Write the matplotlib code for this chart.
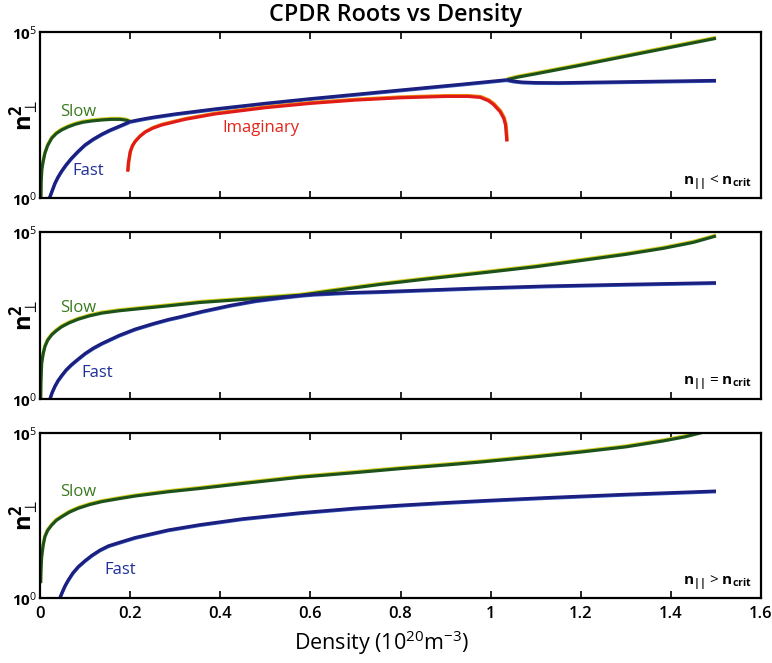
import matplotlib
matplotlib.use("Agg")
import matplotlib.pyplot as plt
import matplotlib.patheffects as pe
from matplotlib.ticker import FixedLocator, FixedFormatter, NullLocator

plt.rcParams["font.family"] = ["Open Sans", "DejaVu Sans"]
plt.rcParams["mathtext.fontset"] = "custom"
plt.rcParams["mathtext.rm"] = "Open Sans"
plt.rcParams["mathtext.bf"] = "Open Sans:bold"
plt.rcParams["mathtext.it"] = "Open Sans:italic"
plt.rcParams["mathtext.sf"] = "Open Sans"

# ---- panel 1: n_par < n_crit ----
p1_slow_x = [0.002, 0.0025, 0.004, 0.007, 0.011, 0.017, 0.026, 0.036, 0.048, 0.062,
             0.078, 0.095, 0.115, 0.137, 0.159, 0.178, 0.192, 0.200]
p1_slow_y = [1.0, 2.82, 7.08, 12.6, 22.4, 38.0, 63.1, 87.1, 112, 138,
             166, 191, 209, 224, 234, 234, 219, 200]
p1_fast_x = [0.021, 0.027, 0.033, 0.040, 0.048, 0.058, 0.070, 0.085, 0.100, 0.118,
             0.137, 0.155, 0.174, 0.188, 0.200]
p1_fast_y = [1.0, 1.66, 2.75, 4.27, 6.46, 10.0, 15.8, 25.7, 39.8, 58.9,
             83.2, 110, 141, 170, 200]
p1_merged_x = [0.200, 0.225, 0.25, 0.30, 0.388, 0.5, 0.6, 0.7, 0.8, 0.932, 1.036]
p1_merged_y = [200, 234, 269, 339, 479, 708, 977, 1318, 1778, 2630, 3631]
p1_fast_hi_x = [1.036, 1.05, 1.07, 1.10, 1.15, 1.2, 1.3, 1.4, 1.5]
p1_fast_hi_y = [3631, 3311, 3090, 2985, 2951, 3020, 3162, 3311, 3467]
p1_slow_hi_x = [1.036, 1.06, 1.1, 1.2, 1.3, 1.4, 1.5]
p1_slow_hi_y = [3631, 4365, 5495, 10000, 18621, 34674, 64565]
p1_imag_x = [0.1945, 0.196, 0.200, 0.205, 0.211, 0.222, 0.233, 0.250, 0.270, 0.322,
             0.388, 0.5, 0.6, 0.7, 0.8, 0.9, 0.95, 0.977, 0.995, 1.006,
             1.021, 1.029, 1.033, 1.036]
p1_imag_y = [6.17, 11.2, 24.5, 37.2, 50.1, 72.4, 95.5, 126, 158, 234,
             339, 525, 708, 891, 1047, 1148, 1148, 1072, 851, 661,
             398, 251, 158, 50.1]

# ---- panel 2: n_par = n_crit ----
p2_slow_x = [0.0015, 0.002, 0.0037, 0.007, 0.011, 0.017, 0.026, 0.036, 0.048, 0.065,
             0.085, 0.110, 0.137, 0.175, 0.211, 0.285, 0.355, 0.45, 0.533, 0.58,
             0.644, 0.755, 0.85, 0.977, 1.1, 1.198, 1.3, 1.383, 1.45, 1.5]
p2_slow_y = [1.0, 3.16, 11.7, 22.4, 37.2, 57.5, 83.2, 110, 145, 191,
             245, 309, 372, 437, 490, 617, 776, 955, 1148, 1288,
             1698, 2692, 3802, 5888, 9120, 13804, 21380, 32359, 48978, 75858]
p2_fast_x = [0.022, 0.027, 0.033, 0.040, 0.048, 0.058, 0.070, 0.085, 0.100, 0.118,
             0.137, 0.175, 0.211, 0.25, 0.285, 0.311, 0.36, 0.422, 0.48, 0.533,
             0.58, 0.606, 0.68, 0.755, 0.977, 1.124, 1.3, 1.5]
p2_fast_y = [1.0, 1.58, 2.40, 3.55, 5.01, 7.41, 10.7, 15.8, 22.9, 33.1,
             45.7, 79.4, 123, 178, 240, 288, 417, 631, 871, 1072,
             1259, 1349, 1514, 1622, 2089, 2399, 2692, 3020]

# ---- panel 3: n_par > n_crit ----
p3_slow_x = [0.0015, 0.002, 0.0037, 0.007, 0.011, 0.017, 0.026, 0.036, 0.048, 0.065,
             0.085, 0.110, 0.137, 0.175, 0.211, 0.285, 0.355, 0.45, 0.577, 0.7,
             0.799, 0.9, 0.977, 1.1, 1.198, 1.3, 1.383, 1.43, 1.465, 1.5]
p3_slow_y = [2.82, 6.31, 17.8, 39.8, 72.4, 112, 162, 224, 288, 398,
             525, 676, 832, 1023, 1230, 1660, 2089, 2951, 4571, 6310,
             8318, 10715, 13183, 19055, 26303, 38019, 57544, 75858, 100000, 131826]
p3_fast_x = [0.044, 0.050, 0.056, 0.063, 0.073, 0.085, 0.100, 0.115, 0.133, 0.152,
             0.180, 0.211, 0.285, 0.355, 0.45, 0.577, 0.7, 0.8, 0.9, 1.0,
             1.124, 1.3, 1.5]
p3_fast_y = [1.0, 1.58, 2.40, 3.55, 5.75, 8.91, 13.5, 19.5, 28.2, 38.0,
             50.1, 67.6, 115, 166, 251, 380, 525, 646, 776, 912,
             1096, 1380, 1738]

x_ticks = [0, 0.2, 0.4, 0.6, 0.8, 1.0, 1.2, 1.4, 1.6]
x_tick_labels = ["0", "0.2", "0.4", "0.6", "0.8", "1", "1.2", "1.4", "1.6"]
y_ticks = [1, 1e5]
y_tick_labels = [r"10$^{0}$", r"10$^{5}$"]

conditions = [r"$\mathbf{n}_{\mathbf{||}}$ < $\mathbf{n}_{\mathbf{crit}}$",
              r"$\mathbf{n}_{\mathbf{||}}$ = $\mathbf{n}_{\mathbf{crit}}$",
              r"$\mathbf{n}_{\mathbf{||}}$ > $\mathbf{n}_{\mathbf{crit}}$"]

# label anchors (x, y) per panel
slow_label_pos = [(0.085, 398), (0.085, 537), (0.085, 1660)]
fast_label_pos = [(0.107, 6.46), (0.126, 6.17), (0.177, 7.08)]
imag_label_pos = (0.49, 126)

GREEN = "#1d531b"
BLUE = "#1b1f80"
RED = "#e01c18"
GREEN_TXT = "#3b7a1f"
BLUE_TXT = "#1f2f98"
RED_TXT = "#e2261c"

LW = 2.3
green_fx = [pe.Stroke(linewidth=LW, foreground="#d8d020", offset=(0, 0.7)), pe.Normal()]
red_fx = [pe.Stroke(linewidth=LW, foreground="#f08a10", offset=(0.4, 0.6)), pe.Normal()]
blue_fx = [pe.Stroke(linewidth=LW, foreground="#3a60c0", offset=(0, -0.5)), pe.Normal()]

fig = plt.figure(figsize=(7.72, 6.63), dpi=100)
boxes = [(0.0518, 0.7014, 0.934, 0.2503),
         (0.0518, 0.3982, 0.934, 0.2519),
         (0.0518, 0.0980, 0.934, 0.2489)]
axes = [fig.add_axes(b) for b in boxes]

ax = axes[0]
ax.plot(p1_slow_x, p1_slow_y, color=GREEN, lw=LW, path_effects=green_fx, solid_capstyle="butt")
ax.plot(p1_slow_hi_x, p1_slow_hi_y, color=GREEN, lw=LW, path_effects=green_fx, solid_capstyle="butt")
ax.plot(p1_fast_x, p1_fast_y, color=BLUE, lw=LW, path_effects=blue_fx, solid_capstyle="butt")
ax.plot(p1_merged_x, p1_merged_y, color=BLUE, lw=LW, path_effects=blue_fx, solid_capstyle="butt")
ax.plot(p1_fast_hi_x, p1_fast_hi_y, color=BLUE, lw=LW, path_effects=blue_fx, solid_capstyle="butt")
ax.plot(p1_imag_x, p1_imag_y, color=RED, lw=LW, path_effects=red_fx, solid_capstyle="butt")
ax.text(*imag_label_pos, "Imaginary", color=RED_TXT, fontsize=12, ha="center", va="center")

ax = axes[1]
ax.plot(p2_slow_x, p2_slow_y, color=GREEN, lw=LW, path_effects=green_fx, solid_capstyle="butt")
ax.plot(p2_fast_x, p2_fast_y, color=BLUE, lw=LW, path_effects=blue_fx, solid_capstyle="butt")

ax = axes[2]
ax.plot(p3_slow_x, p3_slow_y, color=GREEN, lw=LW, path_effects=green_fx, solid_capstyle="butt")
ax.plot(p3_fast_x, p3_fast_y, color=BLUE, lw=LW, path_effects=blue_fx, solid_capstyle="butt")

for i, ax in enumerate(axes):
    ax.set_yscale("log")
    ax.set_xlim(0, 1.6)
    ax.set_ylim(1, 1e5)
    ax.xaxis.set_major_locator(FixedLocator(x_ticks))
    ax.yaxis.set_major_locator(FixedLocator(y_ticks))
    ax.yaxis.set_major_formatter(FixedFormatter(y_tick_labels))
    ax.yaxis.set_minor_locator(NullLocator())
    ax.tick_params(axis="x", direction="in", top=True, bottom=True, length=5, width=1.2,
                   labelsize=12, pad=6)
    ax.tick_params(axis="y", length=0, labelsize=11, pad=2)
    for lab in ax.get_yticklabels():
        lab.set_fontweight("bold")
    for s in ax.spines.values():
        s.set_linewidth(1.6)
    if i < 2:
        ax.set_xticklabels([])
    else:
        ax.set_xticklabels(x_tick_labels, fontweight="semibold")
    ax.set_ylabel(r"$\mathbf{n}_{\perp}^{\mathbf{2}}$", fontsize=17)
    ax.yaxis.set_label_coords(0.002, 0.5)
    sx, sy = slow_label_pos[i]
    ax.text(sx, sy, "Slow", color=GREEN_TXT, fontsize=12, ha="center", va="center")
    fx, fy = fast_label_pos[i]
    ax.text(fx, fy, "Fast", color=BLUE_TXT, fontsize=12, ha="center", va="center")
    ax.text(0.988, 0.09, conditions[i], transform=ax.transAxes, fontsize=11,
            ha="right", va="center")

axes[2].set_xlabel(r"Density (10$^{20}$m$^{-3}$)", fontsize=15.5)
axes[2].xaxis.set_label_coords(0.474, -0.185)
fig.text(395 / 772, 1 - 15 / 663, "CPDR Roots vs Density", fontsize=16.8,
         ha="center", va="center", fontweight="semibold")

fig.savefig("out.png", dpi=100)
